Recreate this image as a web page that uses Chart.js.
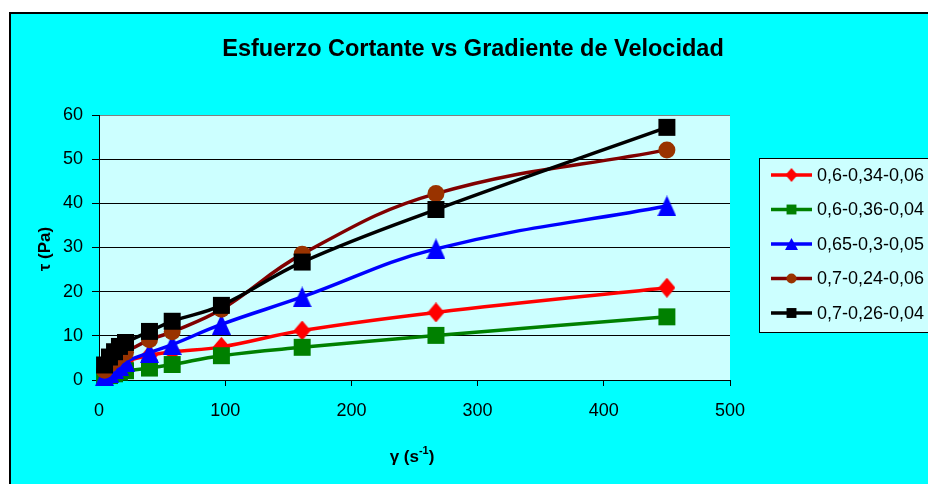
<!DOCTYPE html>
<html>
<head>
<meta charset="utf-8">
<script src="https://cdn.jsdelivr.net/npm/chart.js@4/dist/chart.umd.min.js"></script>
<style>
html,body{margin:0;padding:0;background:#fff;}
canvas{display:block;}
</style>
</head>
<body>
<canvas id="c" width="928" height="484"></canvas>
<script>
// ---- data ----
const shearRate = [4.4, 8.3, 12.3, 16.2, 21, 40, 58, 97, 161, 267, 450];
const seriesNames = ['0,6-0,34-0,06', '0,6-0,36-0,04', '0,65-0,3-0,05', '0,7-0,24-0,06', '0,7-0,26-0,04'];
const s1 = [1.8, 2.5, 3.0, 3.5, 4.2, 5.6, 6.4, 7.5, 11.2, 15.3, 20.9];
const s2 = [0.6, 1.0, 1.4, 1.8, 2.1, 2.7, 3.5, 5.5, 7.4, 10.1, 14.3];
const s3 = [1.0, 1.8, 2.6, 3.3, 4.2, 6.2, 8.0, 12.6, 18.8, 29.7, 39.4];
const s4 = [2.2, 3.5, 4.5, 5.5, 6.3, 9.1, 10.9, 16.0, 28.5, 42.2, 52.1];
const s5 = [3.4, 5.2, 6.4, 7.6, 8.5, 11.0, 13.3, 16.9, 26.7, 38.6, 57.2];
const yTicks = [0, 10, 20, 30, 40, 50, 60];
const xTicks = [0, 100, 200, 300, 400, 500];
const titleText = 'Esfuerzo Cortante vs Gradiente de Velocidad';

const FONT = "'Liberation Sans', Arial, sans-serif";

function markerCanvas(kind, w, h, color) {
  const c = document.createElement('canvas');
  c.width = w; c.height = h;
  const g = c.getContext('2d');
  g.fillStyle = color;
  g.beginPath();
  if (kind === 'tri') {
    g.moveTo(w / 2, 0); g.lineTo(w, h); g.lineTo(0, h);
  } else { // diamond
    g.moveTo(w / 2, 0); g.lineTo(w, h / 2); g.lineTo(w / 2, h); g.lineTo(0, h / 2);
  }
  g.closePath();
  g.fill();
  return c;
}

const styles = [
  {line:'#FF0000', fill:'#FF0000', ps: markerCanvas('dia', 17, 20, '#FF0000'), r:10, lps: markerCanvas('dia', 12, 14, '#FF0000'), lr:7},
  {line:'#008000', fill:'#008000', ps:'rect', r:12, lps:'rect', lr:7},
  {line:'#0000FF', fill:'#0000FF', ps: markerCanvas('tri', 19, 21, '#0000FF'), r:11, lps: markerCanvas('tri', 13, 12, '#0000FF'), lr:7},
  {line:'#800000', fill:'#993300', ps:'circle', r:8.5, lps:'circle', lr:5},
  {line:'#000000', fill:'#000000', ps:'rect', r:12, lps:'rect', lr:7}
];
const allSeries = [s1, s2, s3, s4, s5];

const datasets = allSeries.map((s, i) => ({
  label: seriesNames[i],
  data: s.map((v, k) => ({x: shearRate[k], y: v})),
  borderColor: styles[i].line,
  backgroundColor: styles[i].fill,
  pointBackgroundColor: styles[i].fill,
  pointBorderColor: styles[i].fill,
  pointBorderWidth: 0,
  pointStyle: styles[i].ps,
  pointRadius: styles[i].r,
  pointHoverRadius: styles[i].r,
  borderWidth: 3.5,
  tension: 0.4,
  clip: false,
  order: 4 - i
}));

const bgPlugin = {
  id: 'bg',
  beforeDraw(chart) {
    const ctx = chart.ctx, ca = chart.chartArea;
    ctx.save();
    ctx.fillStyle = '#FFFFFF';
    ctx.fillRect(0, 0, chart.width, chart.height);
    ctx.fillStyle = '#00FFFF';
    ctx.fillRect(9, 12, chart.width, chart.height);
    ctx.strokeStyle = '#000';
    ctx.lineWidth = 2;
    ctx.beginPath();
    ctx.moveTo(10, chart.height + 5);
    ctx.lineTo(10, 13);
    ctx.lineTo(chart.width + 5, 13);
    ctx.stroke();
    ctx.fillStyle = '#CCFFFF';
    ctx.fillRect(ca.left, ca.top, ca.right - ca.left, ca.bottom - ca.top);
    ctx.restore();
  },
  afterDraw(chart) {
    const ctx = chart.ctx;
    ctx.save();
    // title
    ctx.fillStyle = '#000';
    ctx.font = 'bold 23.5px ' + FONT;
    ctx.textAlign = 'center';
    ctx.textBaseline = 'alphabetic';
    ctx.fillText(titleText, 473, 56);
    // y title
    ctx.save();
    ctx.translate(50, 249);
    ctx.rotate(-Math.PI / 2);
    ctx.font = 'bold 17px ' + FONT;
    ctx.textAlign = 'center';
    ctx.fillText('τ (Pa)', 0, 0);
    ctx.restore();
    // x title with superscript
    ctx.font = 'bold 17px ' + FONT;
    const a = 'γ (s', sup = '-1', b = ')';
    const wa = ctx.measureText(a).width;
    const wb = ctx.measureText(b).width;
    ctx.font = 'bold 11px ' + FONT;
    const ws = ctx.measureText(sup).width;
    const total = wa + ws + wb;
    let x0 = 412 - total / 2;
    const base = 462;
    ctx.textAlign = 'left';
    ctx.font = 'bold 17px ' + FONT;
    ctx.fillText(a, x0, base);
    ctx.font = 'bold 11px ' + FONT;
    ctx.fillText(sup, x0 + wa, base - 8);
    ctx.font = 'bold 17px ' + FONT;
    ctx.fillText(b, x0 + wa + ws, base);
    // legend
    const lx = 759, ly = 158, lh = 174;
    ctx.fillStyle = '#CCFFFF';
    ctx.fillRect(lx, ly, chart.width - lx + 5, lh);
    ctx.strokeStyle = '#000';
    ctx.lineWidth = 1;
    ctx.strokeRect(lx + 0.5, ly + 0.5, chart.width, lh);
    chart.data.datasets.forEach((ds, i) => {
      const y = 175 + i * 34.5;
      ctx.strokeStyle = styles[i].line;
      ctx.lineWidth = 3.5;
      ctx.beginPath();
      ctx.moveTo(771, y);
      ctx.lineTo(812, y);
      ctx.stroke();
      ctx.fillStyle = styles[i].fill;
      ctx.strokeStyle = styles[i].fill;
      Chart.helpers.drawPoint(ctx, {pointStyle: styles[i].lps, radius: styles[i].lr, rotation: 0, borderWidth: 0}, 791.5, y);
      ctx.fillStyle = '#000';
      ctx.font = '18px ' + FONT;
      ctx.textAlign = 'left';
      ctx.textBaseline = 'middle';
      ctx.fillText(ds.label, 817, y + 1);
    });
    ctx.restore();
  }
};

new Chart(document.getElementById('c'), {
  type: 'line',
  data: {datasets},
  options: {
    responsive: false,
    animation: false,
    events: [],
    layout: {padding: {top: 115, right: 198, left: 0, bottom: 0}},
    plugins: {legend: {display: false}, title: {display: false}, tooltip: {enabled: false}},
    scales: {
      x: {
        type: 'linear', min: 0, max: 500,
        afterBuildTicks(scale) { scale.ticks = xTicks.map(v => ({value: v})); },
        afterFit(scale) { scale.height = 104; },
        ticks: {font: {size: 18, family: FONT}, color: '#000', padding: 14, maxRotation: 0},
        grid: {drawOnChartArea: false, drawTicks: true, tickLength: 6, tickColor: '#000', lineWidth: 1},
        border: {color: '#000', width: 1}
      },
      y: {
        type: 'linear', min: 0, max: 60,
        afterBuildTicks(scale) { scale.ticks = yTicks.map(v => ({value: v})); },
        afterFit(scale) { scale.width = 99; },
        ticks: {font: {size: 18, family: FONT}, color: '#000', padding: 9},
        grid: {color: ctx => (ctx.tick && ctx.tick.value === 60) ? '#808080' : '#000', tickColor: '#000', tickLength: 7, lineWidth: 1},
        border: {color: '#000', width: 1}
      }
    }
  },
  plugins: [bgPlugin]
});
</script>
</body>
</html>
